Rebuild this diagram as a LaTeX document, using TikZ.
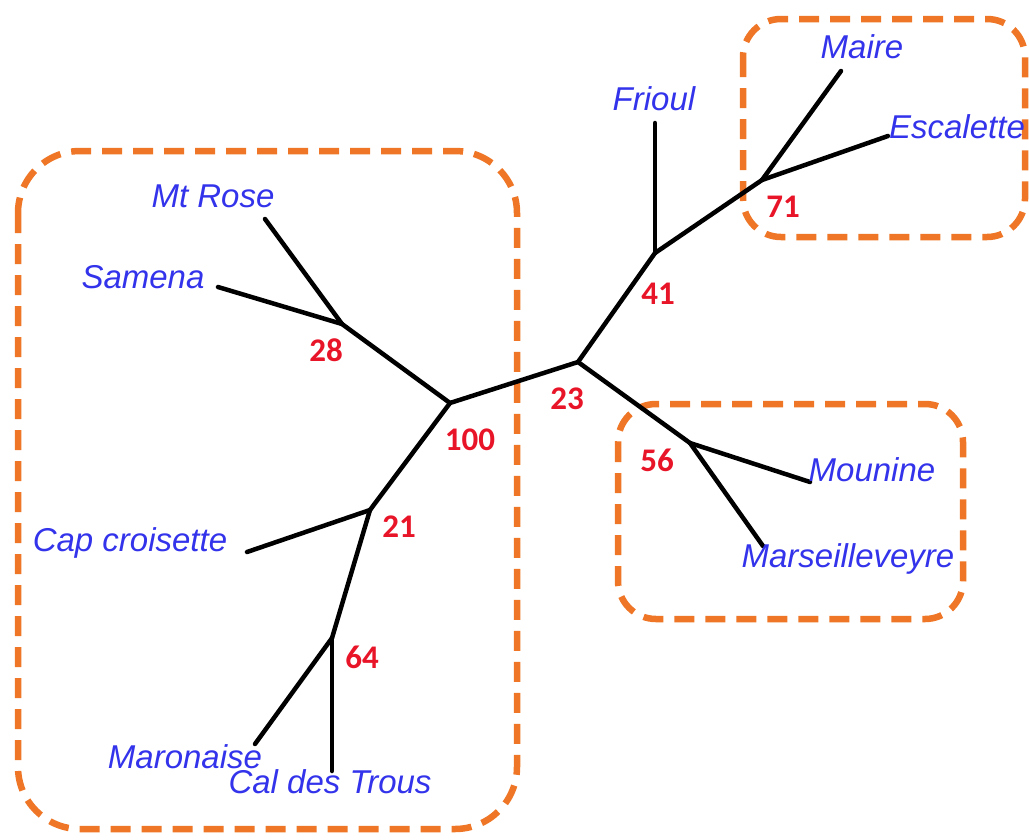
\documentclass[tikz,border=0pt]{standalone}
\usepackage{fontspec}
\setmainfont{Liberation Sans}
\newfontfamily\numfont{Carlito}
\definecolor{leafblue}{RGB}{51,51,235}
\definecolor{supred}{RGB}{232,20,40}
\definecolor{grouporange}{RGB}{238,118,38}
\tikzset{
  branch/.style={line width=4.5pt, black, line cap=round, line join=round},
  leaf/.style={text=leafblue, font=\fontsize{33}{38}\selectfont\itshape, inner sep=0pt},
  support/.style={text=supred, font=\numfont\fontsize{33}{38}\selectfont\bfseries, inner sep=0pt},
  groupbox/.style={draw=grouporange, line width=6.5pt, dash pattern=on 20pt off 11pt},
}
\begin{document}
\begin{tikzpicture}[x=1pt,y=-1pt]
\useasboundingbox (0,0) rectangle (1029,839);
% group boxes
\draw[groupbox, rounded corners=62pt] (18,151) rectangle (517,829);
\draw[groupbox, rounded corners=38pt] (743,19) rectangle (1025,237);
\draw[groupbox, rounded corners=38pt] (618,404) rectangle (963,619);
% internal nodes
\coordinate (n100) at (450,403);
\coordinate (n28) at (342,324);
\coordinate (n21) at (370,510);
\coordinate (n64) at (332,638);
\coordinate (n23) at (578,362);
\coordinate (n41) at (655,253);
\coordinate (n71) at (762,180);
\coordinate (n56) at (690,443);
% leaf ends
\coordinate (eMtRose) at (265,219);
\coordinate (eSamena) at (218,287);
\coordinate (eCap) at (247,552);
\coordinate (eMaron) at (255,744);
\coordinate (eCal) at (332,771);
\coordinate (eFrioul) at (655,123);
\coordinate (eMaire) at (841,71);
\coordinate (eEsc) at (888,136);
\coordinate (eMoun) at (810,482);
\coordinate (eMars) at (763,546);
% branches
\draw[branch] (n100) -- (n23);
\draw[branch] (n100) -- (n28);
\draw[branch] (n28) -- (eMtRose);
\draw[branch] (n28) -- (eSamena);
\draw[branch] (n100) -- (n21);
\draw[branch] (n21) -- (eCap);
\draw[branch] (n21) -- (n64);
\draw[branch] (n64) -- (eMaron);
\draw[branch] (n64) -- (eCal);
\draw[branch] (n23) -- (n41);
\draw[branch] (n41) -- (eFrioul);
\draw[branch] (n41) -- (n71);
\draw[branch] (n71) -- (eMaire);
\draw[branch] (n71) -- (eEsc);
\draw[branch] (n23) -- (n56);
\draw[branch] (n56) -- (eMoun);
\draw[branch] (n56) -- (eMars);
% leaf labels
\node[leaf] (lMtRose) at (213,196) {Mt Rose};
\node[leaf] (lSamena) at (143,277) {Samena};
\node[leaf] (lCap) at (130,543) {Cap croisette};
\node[leaf] (lMaron) at (185,757) {Maronaise};
\node[leaf] (lCal) at (330,782) {Cal des Trous};
\node[leaf] (lFrioul) at (654,99) {Frioul};
\node[leaf] (lMaire) at (862,47) {Maire};
\node[leaf] (lEsc) at (957,127) {Escalette};
\node[leaf] (lMoun) at (872,470) {Mounine};
\node[leaf] (lMars) at (848,559) {Marseilleveyre};
% support values
\node[support] (s28) at (326,350) {28};
\node[support] (s100) at (470,440) {100};
\node[support] (s21) at (399,527) {21};
\node[support] (s64) at (362,657) {64};
\node[support] (s23) at (567,399) {23};
\node[support] (s41) at (658,294) {41};
\node[support] (s71) at (783,207) {71};
\node[support] (s56) at (657,460) {56};
\end{tikzpicture}
\end{document}
